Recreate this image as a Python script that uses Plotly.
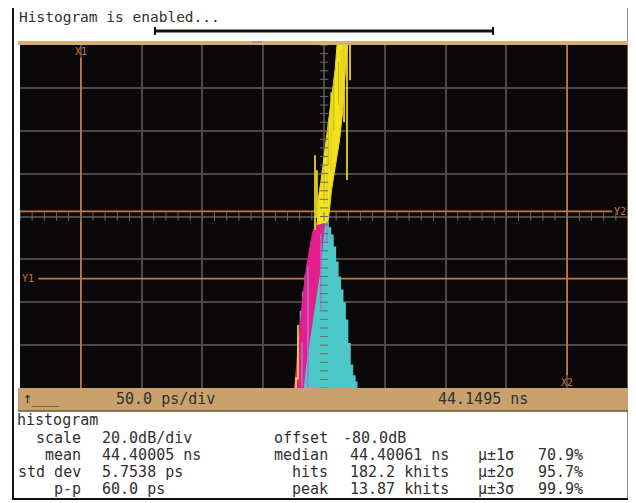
import plotly.graph_objects as go

# ---------------- data (time in ps from screen centre, amplitude in divisions above bottom) -------------
hist_t = [-23, -21, -19, -17, -15, -13, -11, -9, -7, -5, -3, -1, 1, 3, 5, 7, 9, 11, 13, 15, 17, 19, 21, 23, 25, 27]
hist_v = [0.3, 1.2, 1.8, 2.25, 2.65, 2.95, 3.25, 3.5, 3.7, 3.85, 3.93, 3.97, 3.95, 3.88, 3.75, 3.58,
          3.3, 2.95, 2.6, 2.3, 2.0, 1.6, 1.05, 0.55, 0.3, 0.15]

mag_t = [-24.2, -22.6, -20.1, -17.7, -14.4, -9.4, -6.8, -4.1, -1.6, 0.4, -0.4, -2.9, -7.0, -11.1, -15.2, -17.0]
mag_v = [0.0, 0.49, 1.28, 2.05, 2.82, 3.62, 3.80, 3.92, 3.94, 3.80, 3.62, 2.82, 2.05, 1.28, 0.49, 0.0]

mspk_t = [-19.0, -19.0, None, -15.0, -15.0, None, -10.5, -10.5, None, -6.0, -6.0, None, -21.5, -21.5]
mspk_v = [1.1, 0.0, None, 2.5, 0.9, None, 3.3, 1.9, None, 3.7, 2.6, None, 0.9, 0.0]

lav_t = [-13.2, -13.2, None, -2.5, -2.5, None, 2.5, 2.5, None, -18.1, -18.1]
lav_v = [2.82, 0.02, None, 3.62, 1.82, None, 3.92, 3.38, None, 1.05, 0.02]

ycore_t = [-5.7, -4.9, -2.4, 0.8, 4.1, 6.6, 9.1, 10.7, 10.7, 21.0, 19.4, 17.0, 15.4, 12.8, 9.6, 6.2, 4.5, 3.3]
ycore_v = [3.80, 4.38, 4.85, 5.55, 6.25, 6.83, 7.42, 8.0, 8.3, 8.3, 8.0, 7.18, 6.48, 5.78, 5.20, 4.62, 4.15, 3.87]

yspk_t = [-7.4, -7.4, None, -5.8, -5.8, None, 18.9, 18.9, None, 21.4, 21.4, None, -21.4, -21.4, None,
          -23.0, -23.0, None, 2.5, 2.5, None, 6.0, 6.0, None, 14.0, 14.0, None, 16.5, 16.5]
yspk_v = [3.69, 5.43, None, 3.97, 5.08, None, 8.3, 4.85, None, 8.3, 7.18, None, 1.47, 0.19, None,
          0.25, 0.0, None, 4.3, 5.9, None, 5.0, 6.9, None, 6.4, 7.9, None, 6.2, 8.3]

ydark_t = [0.0, 0.0, None, 3.5, 3.5, None, 8.0, 8.0, None, 12.0, 12.0, None, 16.0, 16.0]
ydark_v = [4.3, 5.2, None, 5.2, 6.2, None, 6.0, 7.2, None, 6.6, 7.6, None, 7.4, 8.2]

cursor_x = {"X1": -200, "X2": 200}
cursor_y = {"Y1": 2.55, "Y2": 4.12}

stats_left_labels = ["scale", "mean", "std dev", "p-p"]
stats_left_values = ["20.0dB/div", "44.40005 ns", "5.7538 ps", "60.0 ps"]
stats_mid_labels = ["offset", "median", "hits", "peak"]
stats_mid_values = ["-80.0dB", "44.40061 ns", "182.2 khits", "13.87 khits"]
sigma_labels = ["μ±1σ", "μ±2σ", "μ±3σ"]
sigma_values = ["70.9%", "95.7%", "99.9%"]

# ---------------- layout geometry (page pixels; the page body has an 8px margin) ----------------
OFF = 8
W, H = 636 - OFF, 503 - OFF
PL, PR, PT, PB = 20, 628, 45, 388          # plot area in page pixels
def px(x):
    return (x - PL) / (PR - PL)
def py(y):
    return (PB - y) / (PB - PT)

FONT = "DejaVu Sans Mono"
TXT = "#303030"
ORANGE = "#c8783a"
GRID = "#4a4746"

fig = go.Figure()

# cyan histogram
fig.add_trace(go.Scatter(
    x=[hist_t[0] - 1] + hist_t + [hist_t[-1] + 1], y=[0] + hist_v + [0],
    mode="lines", line=dict(shape="hvh", width=0, color="#4cc8c8"),
    fill="tozeroy", fillcolor="#4cc8c8", hoverinfo="skip"))
# magenta histogram
fig.add_trace(go.Scatter(x=mag_t, y=mag_v, mode="lines", fill="toself",
                         fillcolor="#e61e8c", line=dict(color="#e61e8c", width=1), hoverinfo="skip"))
fig.add_trace(go.Scatter(x=mspk_t, y=mspk_v, mode="lines", line=dict(color="#e61e8c", width=2),
                         hoverinfo="skip"))
fig.add_trace(go.Scatter(x=lav_t, y=lav_v, mode="lines", line=dict(color="#a07ccc", width=1.5),
                         hoverinfo="skip"))
# yellow waveform
fig.add_trace(go.Scatter(x=ycore_t, y=ycore_v, mode="lines", fill="toself",
                         fillcolor="#f4e21c", line=dict(color="#e8d41e", width=1), hoverinfo="skip"))
fig.add_trace(go.Scatter(x=ydark_t, y=ydark_v, mode="lines", line=dict(color="#c9b81a", width=1.2),
                         hoverinfo="skip"))
fig.add_trace(go.Scatter(x=yspk_t, y=yspk_v, mode="lines", line=dict(color="#e6d420", width=1.8),
                         hoverinfo="skip"))

# centre graticule tick marks
ht = [v for v in range(-250, 251, 10)]
fig.add_trace(go.Scatter(x=ht, y=[4] * len(ht), mode="markers",
                         marker=dict(symbol="line-ns", size=6, line=dict(width=1, color="#6a6a6a")),
                         hoverinfo="skip"))
vt = [i / 5 for i in range(0, 41)]
fig.add_trace(go.Scatter(x=[0] * len(vt), y=vt, mode="markers",
                         marker=dict(symbol="line-ew", size=6, line=dict(width=1, color="#6a6a6a")),
                         hoverinfo="skip"))

# cursors
fig.add_shape(type="line", xref="x", yref="y", x0=cursor_x["X1"], x1=cursor_x["X1"], y0=0, y1=7.7,
              line=dict(color=ORANGE, width=1.6), layer="between")
fig.add_shape(type="line", xref="x", yref="y", x0=cursor_x["X2"], x1=cursor_x["X2"], y0=0.3, y1=8,
              line=dict(color=ORANGE, width=1.6), layer="between")
fig.add_shape(type="line", xref="x", yref="y", x0=-235, x1=250, y0=cursor_y["Y1"], y1=cursor_y["Y1"],
              line=dict(color=ORANGE, width=1.6), layer="between")
fig.add_shape(type="line", xref="x", yref="y", x0=-250, x1=237, y0=cursor_y["Y2"], y1=cursor_y["Y2"],
              line=dict(color=ORANGE, width=1.6), layer="between")
for name, xx, yy in [("X1", cursor_x["X1"], 7.84), ("X2", cursor_x["X2"], 0.14),
                     ("Y1", -243.5, cursor_y["Y1"]), ("Y2", 243.5, cursor_y["Y2"])]:
    fig.add_annotation(x=xx, y=yy, xref="x", yref="y", text=name, showarrow=False,
                       font=dict(family=FONT, size=10, color=ORANGE), xanchor="center", yanchor="middle")

# frame decorations
fig.add_shape(type="rect", xref="paper", yref="paper", x0=px(13), x1=px(628.5), y0=py(499), y1=py(3),
              line=dict(color="#111", width=2), fillcolor="rgba(0,0,0,0)")
fig.add_shape(type="rect", xref="paper", yref="paper", x0=px(18), x1=px(630), y0=py(45), y1=py(41),
              line=dict(width=0), fillcolor="#d8ae74")
fig.add_shape(type="rect", xref="paper", yref="paper", x0=px(627.5), x1=px(630), y0=py(388), y1=py(41),
              line=dict(width=0), fillcolor="#d8b07a")
fig.add_shape(type="rect", xref="paper", yref="paper", x0=px(18), x1=px(630), y0=py(411), y1=py(388),
              line=dict(width=0), fillcolor="#c9a16c")
fig.add_shape(type="line", xref="paper", yref="paper", x0=px(18), x1=px(630), y0=py(411), y1=py(411),
              line=dict(color="#6e5434", width=1.5))
fig.add_shape(type="line", xref="paper", yref="paper", x0=px(155), x1=px(493), y0=py(31), y1=py(31),
              line=dict(color="#111", width=3))
for xe in (155, 493):
    fig.add_shape(type="line", xref="paper", yref="paper", x0=px(xe), x1=px(xe), y0=py(27), y1=py(35),
                  line=dict(color="#111", width=2))
fig.add_shape(type="line", xref="paper", yref="paper", x0=px(252), x1=px(262), y0=py(42), y1=py(42),
              line=dict(color="#9a9a9a", width=2))

def ann(x, y, text, anchor="left", size=15, color=TXT):
    fig.add_annotation(x=px(x), y=py(y), xref="paper", yref="paper", text=text, showarrow=False,
                       xanchor=anchor, yanchor="middle", font=dict(family=FONT, size=size, color=color))

ann(17, 17, "Histogram is enabled...", size=14.5)
ann(21, 398, "↑___")
ann(165, 399, "50.0 ps/div", anchor="center")
ann(483, 399, "44.1495 ns", anchor="center")
ann(15, 420, "histogram")
rows = [438, 455, 472, 489]
for i, yy in enumerate(rows):
    ann(83, yy, stats_left_labels[i], anchor="right")
    ann(100, yy, stats_left_values[i])
    ann(330, yy, stats_mid_labels[i], anchor="right")
    ann(341 if i == 0 else 348, yy, stats_mid_values[i])
    if i >= 1:
        ann(476, yy, sigma_labels[i - 1])
        ann(536, yy, sigma_values[i - 1])

fig.update_layout(
    width=W, height=H,
    margin=dict(l=PL - OFF, r=636 - PR, t=PT - OFF, b=503 - PB),
    paper_bgcolor="white", plot_bgcolor="#0a0808",
    showlegend=False,
    xaxis=dict(range=[-250, 250], dtick=50, tick0=0, showgrid=True, gridcolor=GRID, gridwidth=1.6,
               zeroline=False, showticklabels=False, ticks="", showline=False, fixedrange=True),
    yaxis=dict(range=[0, 8], dtick=1, tick0=0, showgrid=True, gridcolor=GRID, gridwidth=1.6,
               zeroline=False, showticklabels=False, ticks="", showline=False, fixedrange=True),
)

fig.write_html("out.html")
